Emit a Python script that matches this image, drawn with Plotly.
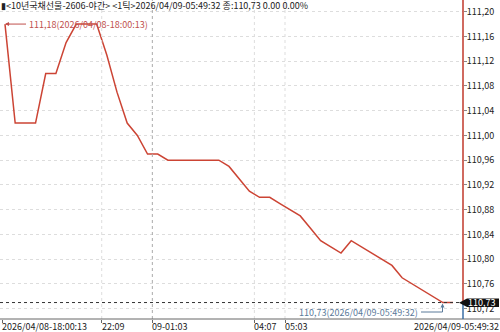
import plotly.graph_objects as go

# ---- data ----
prices = [111.18, 111.02, 111.02, 111.02, 111.10, 111.10, 111.15, 111.18, 111.18, 111.18,
          111.13, 111.07, 111.02, 111.00, 110.97, 110.97, 110.96, 110.96, 110.96, 110.96,
          110.96, 110.96, 110.95, 110.93, 110.91, 110.90, 110.90, 110.89, 110.88, 110.87,
          110.85, 110.83, 110.82, 110.81, 110.83, 110.82, 110.81, 110.80, 110.79, 110.77,
          110.76, 110.75, 110.74, 110.73, 110.73]
tick_labels = ["2026/04/08-18:00:13", "22:09", "09-01:03", "04:07", "05:03"]
tick_index = [-0.29, 9.5, 14.47, 24.49, 27.5]
last_label = "2026/04/09-05:49:32"
y_ticks = [110.72, 110.76, 110.80, 110.84, 110.88, 110.92, 110.96, 111.00,
           111.04, 111.08, 111.12, 111.16, 111.20]
header = "▮<10년국채선물-2606-야간> <1틱>2026/04/09-05:49:32 종:110,73 0.00 0.00%"
max_text = "111,18(2026/04/08-18:00:13)"
min_text = "110,73(2026/04/09-05:49:32)"
last_price = 110.73

W, H = 500, 332
PW, PH = 463, 319  # plot area in px
FONT = "Liberation Sans Narrow, Noto Sans CJK KR, sans-serif"

def px(x):
    return x / PW

def py(y):
    return 1 - y / PH

x = list(range(len(prices)))
ymin, ymax = 110.7034, 111.2189

fig = go.Figure()
fig.add_trace(go.Scatter(x=x, y=prices, mode="lines",
                         line=dict(color="#cc4434", width=1.5),
                         hoverinfo="skip", showlegend=False))

shapes = []
for i, t in enumerate(tick_index):
    if i == 0:
        continue
    col = "#aaaaaa" if tick_labels[i].startswith("09-") else "#dddddd"
    shapes.append(dict(type="line", xref="x", yref="paper", x0=t, x1=t, y0=0, y1=1,
                       line=dict(color=col, width=1, dash="dot")))
shapes.append(dict(type="line", xref="paper", yref="y", x0=0, x1=1, y0=last_price, y1=last_price,
                   line=dict(color="#333333", width=1, dash="dot")))
shapes.append(dict(type="line", xref="paper", yref="paper", x0=0, x1=W / PW, y0=0, y1=0,
                   line=dict(color="#666666", width=1)))
shapes.append(dict(type="line", xref="paper", yref="y", x0=1, x1=1, y0=last_price, y1=ymax,
                   line=dict(color="#c0392b", width=1.5)))
shapes.append(dict(type="line", xref="paper", yref="y", x0=1, x1=1, y0=ymin, y1=last_price,
                   line=dict(color="#3a6ea5", width=1.5)))
bx0, bx1, by0, by1, tip = 464, 499, 298.5, 307, 459
shapes.append(dict(type="path", xref="paper", yref="paper",
                   path=f"M {px(tip)},{py((by0+by1)/2)} L {px(bx0+3)},{py(by0)} L {px(bx1)},{py(by0)} "
                        f"L {px(bx1)},{py(by1)} L {px(bx0+3)},{py(by1)} Z",
                   fillcolor="#111111", line=dict(width=0)))
shapes.append(dict(type="line", xref="paper", yref="paper", x0=px(421), x1=px(442.5), y0=py(312), y1=py(312),
                   line=dict(color="#5a7a9a", width=1)))
shapes.append(dict(type="line", xref="paper", yref="paper", x0=px(442.5), x1=px(442.5), y0=py(312), y1=py(305),
                   line=dict(color="#5a7a9a", width=1)))
shapes.append(dict(type="line", xref="paper", yref="y", x0=px(6), x1=px(26), y0=111.18, y1=111.18,
                   line=dict(color="#c0504d", width=1)))

annotations = [
    dict(text=header, xref="paper", yref="paper", x=0, y=1, xanchor="left", yanchor="top",
         showarrow=False, font=dict(size=9, color="#222222", family=FONT), yshift=2, borderpad=0),
    dict(text=max_text, xref="paper", yref="y", x=px(27), y=111.18, xanchor="left", yanchor="middle",
         showarrow=False, font=dict(size=9, color="#c0504d", family=FONT)),
    dict(text="", xref="x", yref="y", x=0, y=111.18, ax=6, ay=0, showarrow=True,
         arrowhead=2, arrowsize=0.8, arrowwidth=1, arrowcolor="#c0504d"),
    dict(text=min_text, xref="paper", yref="paper", x=px(420), y=py(312), xanchor="right", yanchor="middle",
         showarrow=False, font=dict(size=9, color="#5a7a9a", family=FONT)),
    dict(text="", xref="paper", yref="paper", x=px(442.5), y=py(303.5), ax=0, ay=6, showarrow=True,
         arrowhead=2, arrowsize=0.8, arrowwidth=1, arrowcolor="#5a7a9a"),
    dict(text=f"{last_price:.2f}".replace(".", ","), xref="paper", yref="paper", x=px(482), y=py(302.8),
         xanchor="center", yanchor="middle", showarrow=False, borderpad=0,
         font=dict(size=9, color="#ffffff", family=FONT)),
]
for lab, t in zip(tick_labels, tick_index):
    annotations.append(dict(text=lab, xref="x", yref="paper", x=t, y=0, xanchor="left", yanchor="top",
                            showarrow=False, font=dict(size=9, color="#222222", family=FONT),
                            yshift=0, xshift=-1, borderpad=0))
annotations.append(dict(text=last_label, xref="paper", yref="paper", x=W / PW, y=0, xanchor="right",
                        yanchor="top", showarrow=False, font=dict(size=9, color="#222222", family=FONT),
                        yshift=0, borderpad=0))

fig.update_layout(
    width=W, height=H, margin=dict(l=0, r=W - PW, t=0, b=H - PH),
    paper_bgcolor="white", plot_bgcolor="white",
    shapes=shapes, annotations=annotations, showlegend=False,
    xaxis=dict(range=[-0.49, 44.98], showgrid=False, zeroline=False, showline=False,
               tickvals=tick_index, ticktext=[""] * len(tick_index), ticks="outside", ticklen=3,
               tickcolor="#666666", fixedrange=True),
    yaxis=dict(range=[ymin, ymax], side="right", tickvals=y_ticks,
               ticktext=[f"{v:.2f}".replace(".", ",") for v in y_ticks],
               showgrid=True, gridcolor="#dddddd", griddash="dot", zeroline=False, showline=False,
               ticks="outside", ticklen=3, tickcolor="#888888", ticklabelstandoff=-2,
               tickfont=dict(size=9, color="#222222", family=FONT), fixedrange=True),
)
fig.write_html("out.html")
